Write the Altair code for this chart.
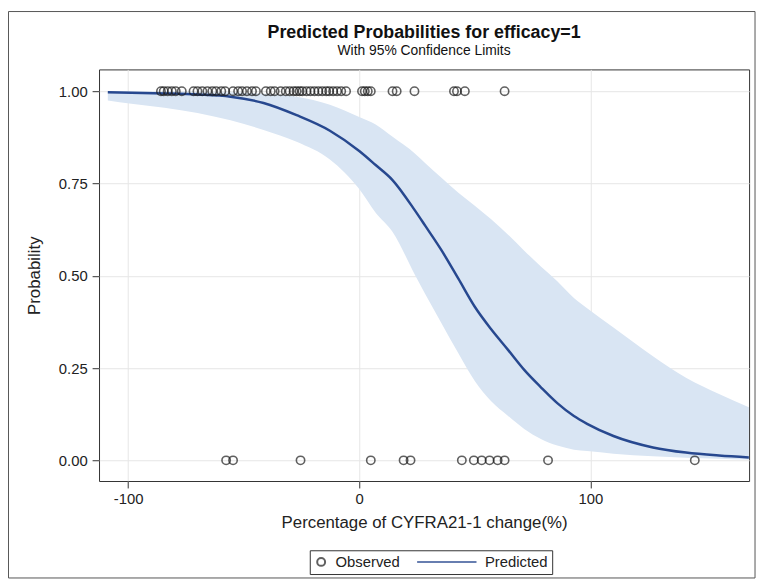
import altair as alt
import pandas as pd

# Observed outcomes (x = percentage change of CYFRA21-1)
obs_x_top = [-85.8, -84.6, -82.9, -81.1, -79.4, -76.8,
             -71.7, -70.0, -67.9, -65.7, -63.6, -61.9, -59.7, -58.0,
             -54.6, -52.4, -50.7, -48.6, -46.4, -44.7,
             -40.4, -38.3, -36.6, -34.0,
             -31.8, -30.1, -28.4, -27.1, -25.8, -24.6, -22.8, -21.1, -19.4,
             -17.7, -16.0, -14.3, -13.0, -11.3, -9.6, -7.8, -5.7,
             1.2, 2.4, 3.7, 5.0, 14.4, 16.2, 23.9, 41.0, 42.3, 45.7, 62.9]
obs_x_bottom = [-57.6, -54.6, -25.4, 5.0, 19.2, 22.2, 44.4, 49.6, 53.0,
                56.4, 59.9, 62.9, 81.7, 145.2]

# Predicted curve and 95% confidence limits
curve_x = [-108.8, -98.6, -84.3, -70.0, -55.7, -41.4, -27.1, -12.7, 0.0, 7.1,
           14.3, 24.3, 28.6, 35.7, 42.9, 50.0, 57.1, 64.3, 71.4, 78.6,
           85.7, 92.9, 98.6, 110.0, 127.1, 141.4, 155.7, 168.6]
pred = [0.997, 0.996, 0.994, 0.991, 0.985, 0.968, 0.935, 0.893, 0.838, 0.800,
        0.760, 0.675, 0.635, 0.568, 0.492, 0.416, 0.355, 0.300, 0.245, 0.198,
        0.155, 0.120, 0.099, 0.066, 0.035, 0.021, 0.013, 0.008]
lower = [0.975, 0.966, 0.955, 0.941, 0.921, 0.895, 0.863, 0.815, 0.735, 0.671,
         0.620, 0.500, 0.450, 0.370, 0.290, 0.215, 0.160, 0.121, 0.085, 0.058,
         0.040, 0.029, 0.025, 0.018, 0.011, 0.007, 0.004, 0.002]
upper = [0.9995, 0.9995, 0.999, 0.998, 0.997, 0.993, 0.985, 0.963, 0.930, 0.910,
         0.877, 0.830, 0.805, 0.765, 0.725, 0.690, 0.653, 0.612, 0.568, 0.525,
         0.485, 0.440, 0.412, 0.360, 0.282, 0.224, 0.180, 0.144]

x_ticks = [-100, 0, 100]
y_ticks = [0.0, 0.25, 0.5, 0.75, 1.0]
series = ["Observed", "Predicted"]

FONT = "Liberation Sans"
LINE = "#27488f"
BAND = "#d9e5f3"

curve_df = pd.DataFrame({"x": curve_x, "pred": pred, "lower": lower, "upper": upper})
obs_df = pd.DataFrame({
    "x": obs_x_top + obs_x_bottom,
    "y": [1.0] * len(obs_x_top) + [0.0] * len(obs_x_bottom),
    "series": ["Observed"] * (len(obs_x_top) + len(obs_x_bottom)),
})

xscale = alt.Scale(domain=[-112.6, 168.7], nice=False, zero=False)
yscale = alt.Scale(domain=[-0.056, 1.059], nice=False, zero=False)
xaxis = alt.Axis(values=x_ticks, title="Percentage of CYFRA21-1 change(%)",
                 labelExpr="'' + datum.value", labelPadding=4, titlePadding=8)
yaxis = alt.Axis(values=y_ticks, title="Probability", format=".2f",
                 labelPadding=5, titlePadding=15)

circle_path = "M0.667,0A0.667,0.667,0,1,1,-0.667,0A0.667,0.667,0,1,1,0.667,0Z"
line_path = "M-9,0L1,0"

legend = alt.Legend(title=None, orient="none", legendX=213, legendY=486,
                    direction="horizontal", strokeColor="#333", padding=4,
                    symbolSize=144, symbolStrokeWidth=2, labelFont=FONT,
                    labelFontSize=15, labelColor="#222", labelOffset=7,
                    columnPadding=12)

band = alt.Chart(curve_df).mark_area(color=BAND, opacity=1, interpolate="monotone").encode(
    x=alt.X("x:Q", scale=xscale, axis=xaxis),
    y=alt.Y("lower:Q", scale=yscale, axis=yaxis),
    y2="upper:Q",
)
line = alt.Chart(curve_df).mark_line(color=LINE, strokeWidth=2.5, interpolate="monotone").encode(
    x=alt.X("x:Q", scale=xscale),
    y=alt.Y("pred:Q", scale=yscale),
)
points = alt.Chart(obs_df).mark_point(filled=False, size=160, strokeWidth=1.6).encode(
    x=alt.X("x:Q", scale=xscale),
    y=alt.Y("y:Q", scale=yscale),
    shape=alt.Shape("series:N", scale=alt.Scale(domain=series, range=[circle_path, line_path]),
                    legend=legend),
    color=alt.Color("series:N", scale=alt.Scale(domain=series, range=["#1e1e1e", LINE]),
                    legend=legend),
)
frame = alt.Chart(pd.DataFrame({"a": [0]})).mark_rect(
    fillOpacity=0, stroke="#555", strokeWidth=1
).encode(x=alt.value(-91.5), x2=alt.value(663), y=alt.value(-58.5), y2=alt.value(514))

chart = alt.layer(band, line, points, frame).properties(
    width=657, height=416,
    background="white",
    autosize=alt.AutoSizeParams(type="none"),
    padding={"left": 92, "top": 59, "right": 8, "bottom": 100},
    title=alt.TitleParams(
        text="Predicted Probabilities for efficacy=1",
        subtitle="With 95% Confidence Limits",
        font=FONT, fontSize=18, fontWeight="bold", color="#111",
        subtitleFont=FONT, subtitleFontSize=14, subtitleColor="#111",
        subtitlePadding=2, anchor="middle", offset=8, dy=55,
    ),
).configure_view(
    stroke="#333", strokeWidth=1
).configure_axis(
    labelFont=FONT, labelFontSize=15, labelColor="#222",
    titleFont=FONT, titleFontSize=17, titleFontWeight="normal", titleColor="#222",
    tickColor="#333", tickSize=7, domain=False,
    gridColor="#e6e6e6", grid=True,
)

chart.save("out.html", embed_options={"renderer": "svg", "actions": False})
